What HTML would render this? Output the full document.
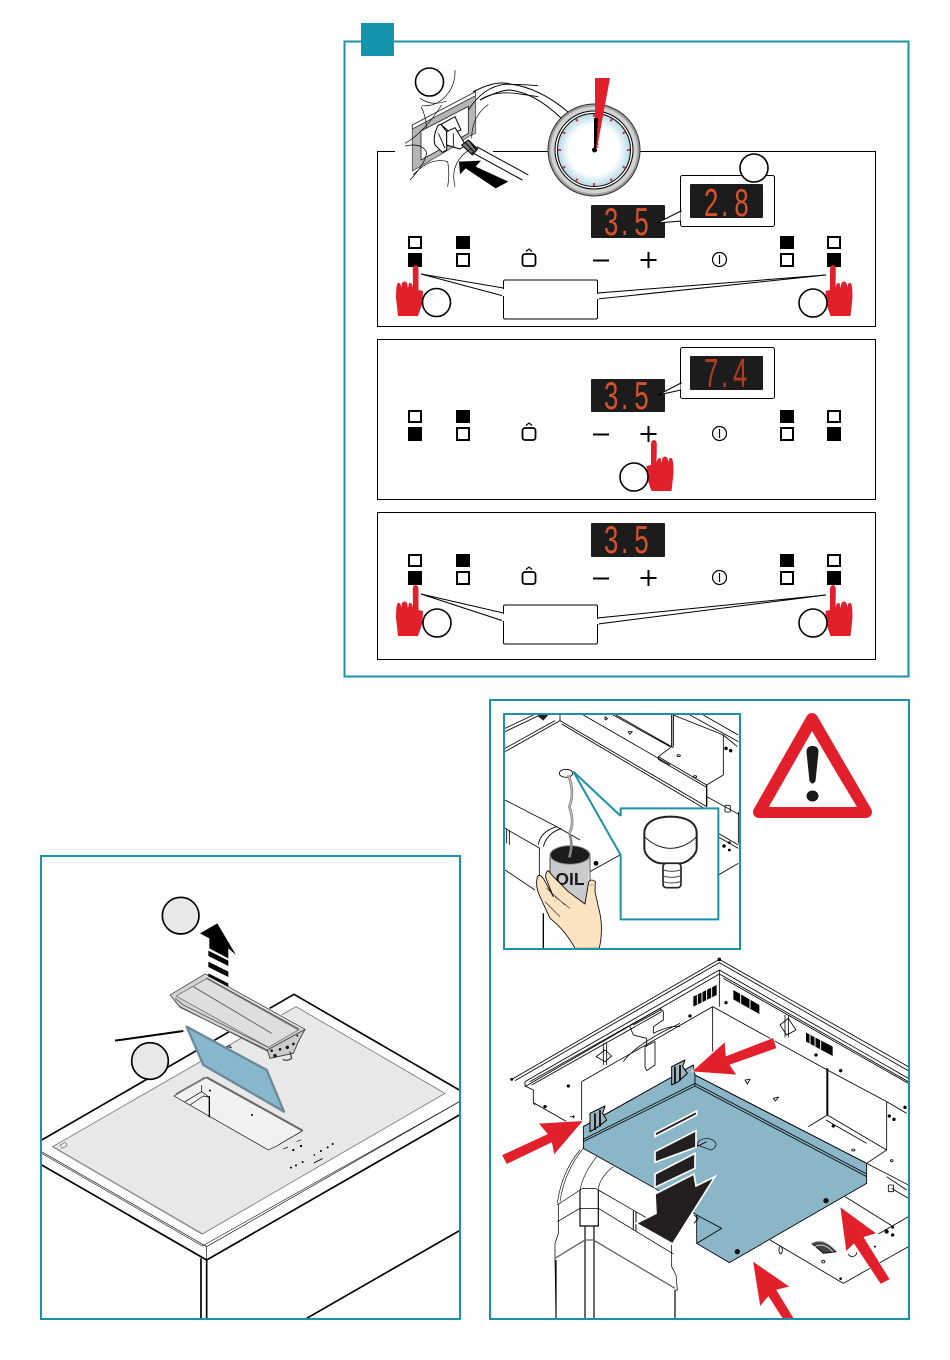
<!DOCTYPE html>
<html><head><meta charset="utf-8">
<style>html,body{margin:0;padding:0;background:#fff}svg{display:block}</style></head>
<body>
<svg xmlns="http://www.w3.org/2000/svg" width="950" height="1360" viewBox="0 0 950 1360">
<defs>
<radialGradient id="dial" cx="50%" cy="50%" r="50%"><stop offset="68%" stop-color="#fff"/><stop offset="100%" stop-color="#b5d9e6"/></radialGradient>
<clipPath id="cL"><rect x="42" y="857" width="417" height="461"/></clipPath>
<clipPath id="cI"><rect x="505" y="715" width="234" height="233"/></clipPath>
<clipPath id="cR"><rect x="491" y="951" width="417" height="367"/></clipPath>
<path id="hand" fill="#e2202b" d="M412.7,270 Q412.7,265 415.5,265 Q418.5,265 418.5,270 L418.5,290 L423,291 L422.5,303 L418,316 L398,316 L396,298 Q396,284 398,283 Q401,282 401,288 L402,283 Q405,280 407,283 L408,288 L409,283 Q412,282 413,288 Z"/>
</defs>
<rect width="950" height="1360" fill="#fff"/>

<!-- Panel A -->
<rect x="344.5" y="41.5" width="564" height="635" fill="#fff" stroke="#1b92a8" stroke-width="2"/>
<rect x="361" y="23" width="33" height="33" fill="#1593ad"/>

<g fill="none" stroke="#000" stroke-width="1">
<rect x="377.5" y="151.5" width="498" height="175"/>
<rect x="377.5" y="339.5" width="498" height="160"/>
<rect x="377.5" y="512.5" width="498" height="147"/>
</g>
<rect x="395" y="149" width="98" height="5" fill="#fff"/>

<!-- plug / socket -->
<g transform="translate(405,65) scale(.33333)" fill="none" stroke="#000" stroke-width="2.500" stroke-linejoin="round">
<polygon points="22,180 212,80 212,205 190,215 130,255 22,318" fill="#b4b5b6" stroke="#555"/>
<polygon points="22,180 212,80 212,92 22,192" fill="#fff" stroke="#333"/>
<polygon points="48,198 190,124 190,205 130,240 48,285" fill="#fff" stroke="#222"/>
<path d="M100,180 Q82,215 90,240 L112,262 L125,255 L125,200 L108,178 Z" fill="#fff" stroke-width="3"/>
<path d="M108,178 L150,155 L168,195 L140,205 Q125,195 108,178Z" fill="#fff" stroke-width="3"/>
<path d="M125,200 L150,188 L182,240 L165,252 L125,240Z" fill="#fff" stroke-width="3"/>
<path d="M145,205V245M100,205L120,250"/>
<path d="M170,240 L190,225 L218,252 L202,270Z" fill="#777" stroke-width="3"/>
<path d="M180,232L208,262M192,226L214,256" stroke-width="3"/>
<path d="M215,245L370,330M200,262L352,345" stroke-width="3"/>
<path d="M150,15 Q152,70 110,105 Q85,125 50,122 M45,100 Q80,125 125,108 M48,125 Q62,150 65,190 M0,235 Q55,205 110,120 M0,243 Q50,232 65,262 Q62,295 15,345 M25,330 Q75,275 128,290 Q135,325 128,365 M150,365 Q132,290 200,250 M200,220 Q200,155 250,118" stroke-width="2"/>
<path d="M190,135 Q235,65 300,58 Q340,58 400,62 M225,105 Q265,78 330,85 L400,95" stroke-width="2.500"/>
<polygon points="162,290 228,287 212,305 310,350 272,370 182,310 165,328" fill="#000" stroke="none"/>
</g>
<path d="M473,92 Q495,80 510,84 Q540,88 568,112 M480,100 Q500,90 510,90 Q535,93 561,118" fill="none" stroke="#000" stroke-width="1"/>
<circle cx="429.500" cy="82" r="14" fill="none" stroke="#000" stroke-width="1.600"/>

<!-- gauge -->
<circle cx="594" cy="150" r="46" fill="#9e9e9e" stroke="#333" stroke-width="1"/>
<circle cx="594" cy="150" r="43.500" fill="#d2d2d2"/>
<circle cx="594" cy="150" r="39" fill="#fff" stroke="#000" stroke-width="1"/>
<circle cx="594" cy="150" r="36.500" fill="url(#dial)" stroke="#000" stroke-width="1"/>
<g stroke="#cf3b4a" stroke-width="2">
<path d="M594,114v3M594,183v3M558,150h3M627,150h3M612,118.800l-1.500,2.600M577.500,178.600l-1.500,2.600M625.200,132l-2.600,1.500M565.400,166.500l-2.600,1.500M625.200,168l-2.600-1.500M565.400,133.500l-2.600-1.500M612,181.200l-1.500-2.600M577.500,121.400l-1.500-2.600"/>
</g>
<polygon points="595,78 610,78 597,148 595,148" fill="#e2202b"/>
<polygon points="594,118 598,118 596,150 594,150" fill="#000"/>
<path d="M598,122l0,26" stroke="#e2202b" stroke-width="1" stroke-dasharray="2 1.500"/>
<circle cx="594.500" cy="150" r="2.500" fill="#000"/>

<g fill="none" stroke="#000" stroke-width="2">
<rect x="409" y="237" width="12" height="11"/><rect x="457" y="254" width="12" height="12"/>
<rect x="781" y="254" width="12" height="12"/><rect x="828" y="237" width="12" height="11"/>
<rect x="409" y="411" width="12" height="11"/><rect x="457" y="428" width="12" height="12"/>
<rect x="781" y="428" width="12" height="12"/><rect x="828" y="411" width="12" height="11"/>
<rect x="409" y="555" width="12" height="11"/><rect x="457" y="572" width="12" height="12"/>
<rect x="781" y="572" width="12" height="12"/><rect x="828" y="555" width="12" height="11"/>
</g>
<g fill="#000">
<rect x="408" y="253" width="14" height="14"/><rect x="456" y="236" width="14" height="13"/>
<rect x="780" y="236" width="14" height="13"/><rect x="827" y="253" width="14" height="14"/>
<rect x="408" y="427" width="14" height="14"/><rect x="456" y="410" width="14" height="13"/>
<rect x="780" y="410" width="14" height="13"/><rect x="827" y="427" width="14" height="14"/>
<rect x="408" y="571" width="14" height="14"/><rect x="456" y="554" width="14" height="13"/>
<rect x="780" y="554" width="14" height="13"/><rect x="827" y="571" width="14" height="14"/>
</g>
<g fill="none" stroke="#000" stroke-width="1.800">
<rect x="522.500" y="254" width="13" height="12" rx="2.500"/><path d="M526,251.500l3-2.500 3,2.500" stroke-width="1.200"/>
<rect x="522.500" y="428" width="13" height="12" rx="2.500"/><path d="M526,425.500l3-2.500 3,2.500" stroke-width="1.200"/>
<rect x="522.500" y="572" width="13" height="12" rx="2.500"/><path d="M526,569.500l3-2.500 3,2.500" stroke-width="1.200"/>
<path d="M593,260.500h16M640.500,260h16M648.500,252v16" stroke-width="2"/>
<path d="M593,434.500h16M640.500,434h16M648.500,426v16" stroke-width="2"/>
<path d="M593,578.500h16M640.500,578h16M648.500,570v16" stroke-width="2"/>
</g>
<g fill="none" stroke="#000" stroke-width="1.200">
<circle cx="719.500" cy="259.500" r="7"/><path d="M719.500,255v9"/>
<circle cx="719.500" cy="433.500" r="7"/><path d="M719.500,429v9"/>
<circle cx="719.500" cy="577.500" r="7"/><path d="M719.500,573v9"/>
</g>

<!-- displays -->
<g fill="#1c1c1c">
<rect x="591" y="205" width="74" height="33" rx="1"/>
<rect x="591" y="379" width="74" height="33" rx="1"/>
<rect x="591" y="523" width="74" height="34" rx="1"/>
</g>
<!-- callouts -->
<g fill="#fff" stroke="#000" stroke-width="1">
<rect x="680.500" y="175.500" width="94" height="51" rx="2"/>
<rect x="680.500" y="347.500" width="94" height="51" rx="2"/>
<polygon points="681,211 657,223 681,221"/>
<polygon points="681,383 658,395 681,390"/>
<polygon points="421,274 503.500,288 503.500,296"/>
<polygon points="826,275 597.500,293 597.500,299"/>
<rect x="503.500" y="280" width="94" height="39" rx="1.500"/>
<polygon points="421,594 503.500,613 503.500,621"/>
<polygon points="826,595 597.500,618 597.500,624"/>
<rect x="503.500" y="605" width="94" height="39" rx="1.500"/>
</g>
<rect x="681" y="212" width="3" height="9" fill="#fff"/>
<rect x="681" y="384" width="3" height="6" fill="#fff"/>
<rect x="502" y="289" width="3" height="7" fill="#fff"/>
<rect x="596" y="294" width="3" height="5" fill="#fff"/>
<rect x="502" y="614" width="3" height="7" fill="#fff"/>
<rect x="596" y="619" width="3" height="5" fill="#fff"/>
<g fill="#1c1c1c">
<rect x="690" y="184" width="73" height="34" rx="1"/>
<rect x="690" y="356" width="73" height="34" rx="1"/>
</g>
<g font-family="'Liberation Sans',sans-serif" font-size="39" fill="#d4522c">
<text transform="translate(604,235) scale(.66,1)" x="0 26 46">3.5</text>
<text transform="translate(604,409) scale(.66,1)" x="0 26 46">3.5</text>
<text transform="translate(604,553) scale(.66,1)" x="0 26 46">3.5</text>
<text transform="translate(704,216) scale(.66,1)" x="0 26 46">2.8</text>
<text fill="#b23a22" transform="translate(704,387) scale(.66,1.050)" x="0 26 44">7.4</text>
</g>

<!-- hands -->
<use href="#hand"/>
<use href="#hand" transform="translate(1248.500,0) scale(-1,1)"/>
<use href="#hand" transform="translate(1069.500,175) scale(-1,1)"/>
<use href="#hand" transform="translate(0,320)"/>
<use href="#hand" transform="translate(1248.500,320) scale(-1,1)"/>
<g fill="#fff" stroke="#000" stroke-width="1.600">
<circle cx="754" cy="168" r="14"/>
<circle cx="436.500" cy="302.500" r="14"/>
<circle cx="813" cy="303" r="14"/>
<circle cx="634" cy="477" r="14"/>
<circle cx="437" cy="623" r="14"/>
<circle cx="813" cy="623" r="14"/>
</g>

<!-- Bottom left frame -->
<rect x="41" y="856" width="419" height="463" fill="#fff" stroke="#1b92a8" stroke-width="2"/>
<g clip-path="url(#cL)">
<g transform="translate(40,880) scale(.33333)" stroke-linejoin="round">
<polygon points="5,780 762,343 1258,630 1258,705 500,1140 5,855" fill="#fff"/>
<polygon points="38,800 768,380 1215,640 487,1062" fill="#e8e8e8" stroke="#777" stroke-width="2.500"/>
<path d="M38,800L487,1062" stroke="#888" stroke-width="4"/>
<path d="M5,820 L487,1098 L1258,665" fill="none" stroke="#222" stroke-width="2"/>
<path d="M5,780 L762,343 L1258,630" fill="none" stroke="#000" stroke-width="5"/>
<path d="M5,855 L500,1140 L1258,705" fill="none" stroke="#000" stroke-width="5"/>
<path d="M5,780 L5,855M500,1100V1140M500,1100L1258,665M5,815L500,1100" fill="none" stroke="#111" stroke-width="2"/>
<path d="M483,1135V1320M500,1140V1320" fill="none" stroke="#000" stroke-width="5"/>
<path d="M800,1315L1258,1052" fill="none" stroke="#000" stroke-width="5"/>
<rect x="62" y="790" width="18" height="12" fill="none" stroke="#777" stroke-width="2" transform="rotate(-30 71 796)"/>
<g fill="#000">
<circle cx="760" cy="810" r="3.500"/><circle cx="783" cy="798" r="3.500"/><circle cx="823" cy="825" r="2.500"/><circle cx="843" cy="813" r="3"/><circle cx="863" cy="802" r="3"/><circle cx="878" cy="792" r="3"/><circle cx="753" cy="863" r="3"/><circle cx="768" cy="856" r="3"/><circle cx="788" cy="846" r="3"/>
<path d="M822,847l26-13v3l-26,13zM730,806l14-6v2l-14,6zM770,784l14-6v2l-14,6z"/>
</g>
</g>
<g transform="translate(160,970) scale(.33333)" stroke-linejoin="round">
<!-- cutout -->
<polygon points="42,378 140,322 428,482 350,528 325,540" fill="#f1f1f1" stroke="#000" stroke-width="2"/>
<path d="M140,322 L428,482" stroke="#666" stroke-width="6" fill="none"/>
<path d="M48,372 L120,332 L135,322" stroke="#777" stroke-width="5" fill="none"/>
<path d="M75,395 L125,365 L125,345 M90,405 L130,378 L148,382 M125,365 L148,382" fill="none" stroke="#000" stroke-width="2"/>
<path d="M148,378 V442" stroke="#000" stroke-width="4"/>
<circle cx="150" cy="362" r="3"/><circle cx="276" cy="435" r="3"/>
<path d="M200,230l10,-4l5,8z" fill="#999" stroke="#333" stroke-width="2"/>
<!-- blue filter -->
<polygon points="80,170 320,300 372,425 130,285" fill="#86b7cc" stroke="#6b8a98" stroke-width="7"/>
<!-- tray -->
<polygon points="30,75 135,12 435,178 335,262 322,240 60,112" fill="#d4d4d4" stroke="#555" stroke-width="2.500"/>
<polygon points="48,78 140,26 415,180 325,232" fill="#dedede" stroke="#777" stroke-width="2.500"/>
<path d="M135,12 L435,178" stroke="#fff" stroke-width="7"/>
<path d="M135,12 L435,178 M140,24 L418,178" stroke="#555" stroke-width="3" fill="none"/>
<path d="M100,50 L335,190" stroke="#666" stroke-width="3"/>
<path d="M30,75 L60,110 L325,245 M45,85 L70,105 L325,232" fill="none" stroke="#555" stroke-width="2.500"/>
<polygon points="322,240 435,178 415,215 400,250 330,265" fill="#ccc" stroke="#333" stroke-width="2.500"/>
<g fill="#111"><circle cx="345" cy="257" r="5"/><circle cx="335" cy="242" r="4"/><circle cx="360" cy="238" r="4"/><circle cx="382" cy="232" r="5"/><circle cx="400" cy="222" r="4"/><circle cx="412" cy="197" r="3"/></g>
<path d="M368,268 Q380,275 395,265 L390,245" fill="none" stroke="#333" stroke-width="3.500"/>
</g>
<g transform="translate(40,880) scale(.33333)">
<!-- arrow -->
<polygon points="532,130 480,160 508,175 508,205 565,235 565,205 588,225" fill="#000"/>
<polygon points="505,212 565,242 565,258 505,228" fill="#000"/>
<polygon points="505,245 565,275 565,291 505,261" fill="#000"/>
<polygon points="505,280 565,310 565,320 505,290" fill="#000"/>
<path d="M225,482 L430,453" stroke="#000" stroke-width="6"/>
<circle cx="422" cy="107" r="55" fill="#e8e8e8" stroke="#000" stroke-width="5"/>
<circle cx="330" cy="543" r="55" fill="#e8e8e8" stroke="#000" stroke-width="5"/>
</g></g>

<!-- Right frame -->
<rect x="490" y="700" width="419" height="619" fill="#fff" stroke="#1b92a8" stroke-width="2"/>

<!-- warning -->
<polygon points="812,719 759,812 866,812" fill="#fff" stroke="#e2202b" stroke-width="12" stroke-linejoin="round"/>
<polygon points="812,732 769,807 857,807" fill="#fff"/>
<path d="M806.500,752 Q806.500,746 812.500,746 Q818.500,746 818.500,752 L815.500,781 Q812.500,786 809.500,781Z" fill="#1a1a1a"/>
<ellipse cx="812.500" cy="796" rx="6" ry="5.500" fill="#1a1a1a"/>

<!-- Inset -->
<rect x="504" y="714" width="236" height="235" fill="#fff" stroke="#1b92a8" stroke-width="2"/>
<g clip-path="url(#cI)"><g transform="translate(490,700) scale(.33333)" fill="none" stroke="#000" stroke-width="2.500" stroke-linejoin="round">
<path d="M45,95L150,45M45,85L130,45M45,155L210,62M45,145L195,62M210,45V62M210,62L650,320M215,72L648,328M280,45L540,195M370,45L540,140M378,45L550,143M640,45L745,105M600,45L745,125"/>
<path d="M545,45V140M550,45V140" stroke-width="3"/>
<path d="M545,140L505,170L650,255L700,225V105M505,170L505,178L650,262M550,45L700,105M700,105L742,140"/>
<path d="M650,255V320" stroke-width="4"/>
<path d="M650,290L750,345M745,335V430M685,400L745,435M685,525L745,490M680,408L745,445"/>
<path d="M45,300L200,380L270,420M45,385L150,445M45,510L135,570M145,435Q150,395 200,380M160,440Q170,400 215,385M50,385V430M58,390V435M148,445V530"/>
<path d="M300,515L390,465"/>
<path d="M160,640V745" stroke-width="4"/>
<path d="M145,30L175,45L160,62L145,50Z" fill="#222" stroke="none"/>
<ellipse cx="228" cy="220" rx="20" ry="12"/>
<circle cx="318" cy="490" r="6" fill="#000"/><circle cx="708" cy="145" r="4" fill="#000"/><circle cx="722" cy="152" r="4" fill="#000"/><circle cx="702" cy="438" r="4" fill="#000"/><circle cx="718" cy="428" r="3" fill="#000"/><circle cx="718" cy="450" r="3" fill="#000"/>
<ellipse cx="566" cy="167" rx="5" ry="3"/><ellipse cx="615" cy="230" rx="5" ry="3"/><path d="M345,50l8,6-8,4zM415,95l12,0-8,8z"/>
<rect x="705" y="316" width="16" height="20" rx="3"/>
<!-- can -->
<path d="M180,460V585L290,620L300,460Z" fill="#c9cacc" stroke="none"/>
<path d="M180,460V530M300,460V545" stroke-width="2"/>
<ellipse cx="240" cy="465" rx="60" ry="28" fill="#1c1c1c" stroke="#999" stroke-width="3"/>
<path d="M235,225 Q255,280 238,320 Q255,370 238,400 Q250,430 238,472" stroke="#888" stroke-width="8"/>
<path d="M235,225 Q255,280 238,320 Q255,370 238,400" stroke="#ddd" stroke-width="2"/>
</g>
<text x="570" y="885" text-anchor="middle" font-family="'Liberation Sans',sans-serif" font-weight="bold" font-size="17.500" fill="#1a1a1a">OIL</text>
<g transform="translate(490,700) scale(.33333)">
<path d="M142,530 Q135,560 150,590 L180,655 Q225,690 255,745 L328,745 Q342,680 325,620 L315,575 L316,545 Q305,535 296,545 L285,612 L235,575 L190,530 L175,512 Q165,515 168,535 L190,590 L160,535 Q148,520 142,530Z" fill="#fbe2c1" stroke="#000" stroke-width="2.500" stroke-linejoin="round"/>
<path d="M170,565L225,615M165,605L210,650M195,590L240,625" fill="none" stroke="#333" stroke-width="2"/>
<path d="M298,555h14" stroke="#888" stroke-width="2"/>
</g></g>
<!-- teal callout inset -->
<g transform="translate(490,700) scale(.33333)">
<polygon points="250,215 392,345 392,325 685,325 685,658 392,658 392,465" fill="#fff" stroke="none"/>
<path d="M392,348 L250,215 L392,465 V658 H685 V325 H392 V348" fill="none" stroke="#1b92a8" stroke-width="6"/>
<path d="M463,400 C463,365 500,350 541,350 C585,350 620,365 620,400 V445 C620,465 590,490 570,490 H515 C490,490 463,465 463,445Z" fill="#fff" stroke="#222" stroke-width="6"/>
<path d="M463,410 Q500,445 541,445 Q585,445 620,410" fill="none" stroke="#222" stroke-width="3"/>
<rect x="519" y="490" width="54" height="73" rx="10" fill="#fff" stroke="#222" stroke-width="5"/>
<path d="M520,510Q545,518 572,510M520,528Q545,536 572,528M520,545Q545,553 572,545" fill="none" stroke="#444" stroke-width="3"/>
</g>

<!-- Bottom right drawing -->
<g clip-path="url(#cR)"><g transform="translate(490,950) scale(.33333)" fill="none" stroke="#000" stroke-width="2.500" stroke-linejoin="round">
<path d="M65,388L688,28L1255,350M75,392L688,38L1255,362M105,395L688,60L1255,385M105,410L688,72L1255,395"/>
<path d="M120,395L510,175M125,405L515,185M688,60V170M700,85L1255,400"/>
<circle cx="688" cy="28" r="4" fill="#000"/><circle cx="65" cy="388" r="3" fill="#000"/>
<path d="M105,395V408L130,420V458L230,515M130,458L135,465"/>
<path d="M275,395V510M275,395L668,170M668,170V305M668,170L1012,360L1190,455"/>
<path d="M1012,355V495" stroke-width="6"/>
<path d="M1012,495L955,530M1012,495L1190,600V455M1008,510L1130,580M1190,600L1130,640M1190,455L1250,490"/>
<path d="M1130,640L1255,705M1205,715L1255,745M1065,740L1210,830M1255,800L1165,852M1060,1000L1255,890M840,870L1060,1000M1190,680L1250,720"/>
<path d="M510,175L520,185V210L490,230V250M430,225L515,178M420,230L430,255L470,265V290M490,250Q540,225 570,230M400,335Q440,280 570,220M465,290L495,275V345L470,362L465,350Z"/>
<path d="M340,280V345M350,280V345M318,320L345,300L365,318L345,335Z"/>
<path d="M885,195V262M895,195V262M870,225L895,205L918,240L890,255Z"/>
<g fill="#000" stroke="none">
<polygon points="610,140 680,105 680,135 610,170"/>
<polygon points="730,120 808,165 808,192 730,148"/>
<polygon points="948,248 1028,290 1028,318 948,275"/>
<circle cx="708" cy="158" r="5"/><circle cx="600" cy="198" r="5"/><circle cx="235" cy="408" r="5"/><circle cx="165" cy="470" r="5"/><circle cx="978" cy="315" r="5"/><circle cx="1052" cy="362" r="5"/><circle cx="1245" cy="472" r="5"/><circle cx="1030" cy="528" r="5"/><circle cx="1198" cy="498" r="5"/><circle cx="1212" cy="508" r="5"/><circle cx="1190" cy="845" r="6"/><circle cx="1208" cy="855" r="5"/><circle cx="1155" cy="890" r="3"/><circle cx="1052" cy="986" r="4"/><circle cx="1208" cy="832" r="4"/>
</g>
<path d="M622,133V163M636,127V157M650,120V150M665,112V143M752,132V160M780,148V175M960,255V282M975,262V290M992,272V298" stroke="#fff" stroke-width="3"/>
<path d="M765,390l15,-2l-8,14zM850,445l16,-4l-10,12z"/>
<path d="M240,500h15M250,495v10"/>
<!-- fan etc -->
<path d="M965,880Q1000,860 1040,905L1000,910Z" fill="#444"/>
<path d="M965,880Q1000,860 1040,905M975,890Q1000,875 1028,905" stroke="#fff" stroke-width="2"/>
<ellipse cx="1000" cy="935" rx="5" ry="4"/><ellipse cx="872" cy="900" rx="5" ry="12"/><ellipse cx="1090" cy="600" rx="5" ry="3"/><ellipse cx="1205" cy="632" rx="4" ry="3"/>
<rect x="1195" y="705" width="16" height="20" rx="3"/>
<path d="M1075,912a12,10 0 1,0 24,-5"/>
</g>
<!-- duct -->
<g transform="translate(500,1150) scale(.33333)" fill="none" stroke="#000" stroke-width="2.200" stroke-linejoin="round">
<path d="M240,0Q185,65 172,160M250,-5Q193,65 180,155M290,20Q250,70 240,120M340,50Q300,80 295,118" stroke-width="1.800"/>
<path d="M172,165L240,120Q245,115 255,115H280Q290,115 295,120L520,250"/>
<path d="M240,120V228H295V120" stroke-width="3.500"/>
<path d="M255,230V505M282,230V505" stroke-width="3.500"/>
<path d="M175,160V250L165,280V330L168,505M172,215L240,175H295L520,312" />
<path d="M168,330V505" stroke-width="3.500"/>
<path d="M165,325L255,270H280L525,415" stroke="#666" stroke-width="4"/>
<path d="M400,182V240M408,185V242" stroke-width="3"/>
<path d="M515,285V350L528,375L532,420L525,420"/>
<path d="M525,420V505" stroke-width="3.500"/>
</g>
<g transform="translate(490,950) scale(.33333)" fill="none" stroke="#000" stroke-width="2.500" stroke-linejoin="round">
<!-- blue panel -->
<polygon points="280,530 610,345 615,375 1130,640 1130,700 718,938 620,880 620,795 495,715 280,595" fill="#8ab6c8" stroke="#000" stroke-width="2.500"/>
<path d="M280,575L615,408L1130,680M280,568L615,400L1130,672M615,375V408M280,530L610,345M615,375L1130,640"/>
<path d="M620,880L695,835L620,795M612,795L625,805L612,820"/>
<path d="M622,585a28,18 0 1,1 40,15z" stroke-width="2"/>
<path d="M620,590L650,575"/>
<circle cx="742" cy="905" r="8" fill="#111" stroke="none"/>
<circle cx="1008" cy="752" r="8" fill="#111" stroke="none"/>
<!-- clips -->
<g fill="#9fb4bd" stroke="#000" stroke-width="3">
<path d="M300,490L345,468L338,490L350,510L325,530L300,545Z"/>
<path d="M545,350L585,330L578,350L592,370L565,395L545,405Z"/>
</g>
<path d="M315,490V540M330,480V530M555,350V400M570,345V392" stroke-width="5"/>
<!-- stripes + arrow -->
<g fill="#231f20" stroke="#fff" stroke-width="5" stroke-linejoin="miter">
<polygon points="495,548 620,483 620,495 495,560"/>
<polygon points="495,605 618,542 618,592 495,637"/>
<polygon points="495,672 615,610 615,655 495,712"/>
<polygon points="495,732 612,672 618,708 675,680 548,882 438,820 498,790"/>
</g>
<!-- red arrows -->
<g fill="#e2202b" stroke="#fff" stroke-width="2">
<polygon points="280,512 145,520 172,552 35,615 50,643 185,578 192,615"/>
<polygon points="605,365 705,275 708,318 850,263 860,295 720,345 740,375"/>
<polygon points="1050,770 1160,850 1122,862 1200,988 1172,1003 1092,882 1068,905"/>
<polygon points="788,933 900,1010 860,1020 915,1110 880,1110 835,1040 810,1070"/>
</g>
</g></g>
</svg>
</body></html>
